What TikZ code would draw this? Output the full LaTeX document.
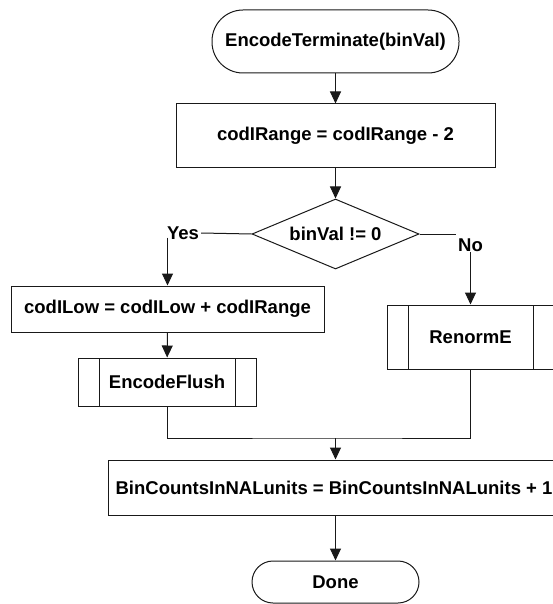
\documentclass[tikz,border=0pt]{standalone}
\usepackage{fontspec}
\setmainfont{Liberation Sans}
\usetikzlibrary{arrows.meta,shapes.geometric,calc}
\begin{document}
\begin{tikzpicture}[x=1pt,y=-1pt,
  every node/.style={font=\fontsize{18.5}{22}\selectfont\bfseries},
  line/.style={line width=1pt,draw=black!90},
  arr/.style={line, -{Triangle[width=11pt,length=12pt]}},
  proc/.style={line, rectangle, inner sep=0pt},
  term/.style={line, rectangle, inner sep=0pt},
  decision/.style={line, diamond, inner sep=0pt, shape aspect=2.4},
  subproc/.style={line, rectangle, inner sep=0pt,
    path picture={
      \draw[line width=1pt,black!90]
        ([xshift=21pt]path picture bounding box.north west) --
        ([xshift=21pt]path picture bounding box.south west)
        ([xshift=-21pt]path picture bounding box.north east) --
        ([xshift=-21pt]path picture bounding box.south east);
    }},
  lbl/.style={inner sep=2pt}
]
\fill[white] (0,0) rectangle (552,604);
\useasboundingbox (0,0) rectangle (552,604);

% flow steps
\node[term, minimum width=247pt, minimum height=63pt, rounded corners=31pt]
  (start) at (335.5,41.5) {EncodeTerminate(binVal)};
\node[proc, minimum width=319pt, minimum height=63pt]
  (range) at (335.5,135.5) {codIRange = codIRange - 2};
\node[decision, minimum width=167pt, minimum height=70pt]
  (dec) at (335.5,234) {};
\node at (dec) {binVal != 0};
\node[proc, minimum width=313pt, minimum height=46pt]
  (low) at (167.5,309) {codILow = codILow + codIRange};
\node[subproc, minimum width=178pt, minimum height=48pt]
  (flush) at (167,382) {EncodeFlush};
\node[subproc, minimum width=167pt, minimum height=64pt]
  (renorm) at (470.5,337) {RenormE};
\node[proc, minimum width=452pt, minimum height=55pt]
  (bin) at (334,487.5) {BinCountsInNALunits = BinCountsInNALunits + 1};
\node[term, minimum width=167pt, minimum height=42pt, rounded corners=21pt]
  (done) at (335.5,582) {Done};

% branch labels
\node[lbl] (yes) at (183,233) {Yes};
\node[lbl] (no) at (470.5,245) {No};

% connectors
\draw[arr] (start) -- (range);
\draw[arr] (range) -- (dec);
\draw[line] (dec.west) -- (yes.east);
\draw[arr] ([yshift=4pt]low.north |- yes.south) -- (low.north);
\draw[line] (dec.east) -- (no.west |- dec.east);
\draw[arr] ([yshift=2pt]renorm.north |- no.south) -- (renorm.north);
\draw[arr] (low) -- (flush);
\coordinate (merge) at (dec.south |- 0,438);
\draw[line] (flush.south) |- (merge) -| (renorm.south);
\draw[arr] (merge) -- (merge |- bin.north);
\draw[arr] (done.north |- bin.south) -- (done);
\end{tikzpicture}
\end{document}
